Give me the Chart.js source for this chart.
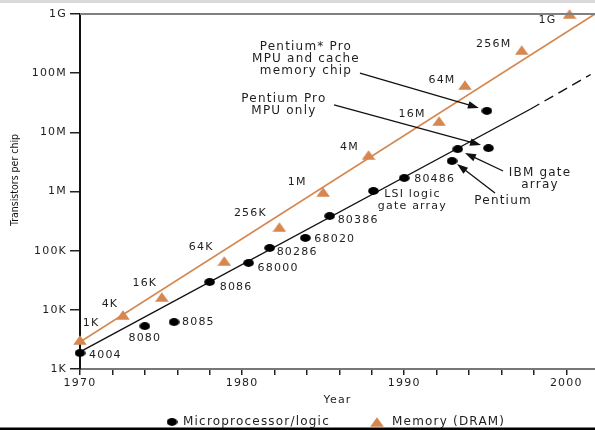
<!DOCTYPE html>
<html><head><meta charset="utf-8">
<script src="https://cdn.jsdelivr.net/npm/chart.js@4.4.1/dist/chart.umd.min.js"></script>
<style>html,body{margin:0;padding:0;background:#fff;overflow:hidden}</style>
</head><body>
<canvas id="c" width="595" height="430"></canvas>
<script>
// ---------- data ----------
const xTickYears  = [1970,1972,1974,1976,1978,1980,1982,1984,1986,1988,1990,1992,1994,1996,1998,2000];
const xTickLabels = ['1970','','','','','1980','','','','','1990','','','','','2000'];
const yTickValues = [1e3,1e4,1e5,1e6,1e7,1e8,1e9];
const yTickLabels = ['1K','10K','100K','1M','10M','100M','1G'];

const cpuNames = ['4004','8080','8085','8086','68000','80286','68020','80386','LSI logic\ngate array','80486','Pentium','IBM gate array','Pentium Pro MPU only','Pentium Pro MPU and cache'];
const cpuYears = [1970,1974.0,1975.8,1978.0,1980.4,1981.7,1983.9,1985.4,1988.1,1990.0,1992.95,1993.3,1995.2,1995.1];
const cpuTransistors = [1860,5300,6200,29500,62000,111000,164000,385000,1020000,1690000,3270000,5200000,5400000,23000000];

const dramNames = ['1K','4K','16K','64K','256K','1M','4M','16M','64M','256M','1G'];
const dramYears = [1970,1972.65,1975.05,1978.9,1982.3,1985.0,1987.8,1992.15,1993.75,1997.25,2000.2];
const dramBits  = [3090,8180,16500,66900,251000,980000,4140000,15500000,63000000,246000000,1000000000];

const cpuTrendYears  = [1970,1997.8,2001.5];
const cpuTrendValues = [1940,24800000,95000000];
const dramTrendYears  = [1970,2001.77];
const dramTrendValues = [2860,1000000000];

// ---------- label placement (pixel offsets from each mark) ----------
const cpuLabelPos = [[9,2,'left'],[0,12,'center'],[8,0,'left'],[10,5,'left'],[9,5,'left'],[7,4,'left'],[9,1,'left'],[8,4,'left'],[39,3,'center'],[10,1,'left'],null,null,null,null];
const dramLabelPos = [[11,-17],[-13,-11],[-17,-14],[-23,-14],[-29,-14],[-26,-10],[-19,-8],[-27,-7],[-23,-5],[-28,-6],[-22,6]];

// annotations (anchors in data coordinates)
const notes = [
  {lines:['Pentium* Pro','MPU and cache','memory chip'], at:[1983.94,2.77e8], from:[1987.27,1.006e8], to:[1994.61,2.58e7]},
  {lines:['Pentium Pro','MPU only'], at:[1982.58,3.66e7], from:[1985.67,2.9e7], to:[1994.74,6.1e6]},
  {lines:['IBM gate','array'], at:[1998.38,2.05e6], from:[1996.1,2.22e6], to:[1993.75,4.47e6]},
  {lines:['Pentium'], at:[1996.1,6.9e5], from:[1995.6,9.4e5], to:[1993.26,2.92e6]}
];

// ---------- styles ----------
const TEXT = '#1e1e1e';
const ORANGE = '#d5874f';
const FONT = "'DejaVu Sans', 'Open Sans', sans-serif";
const SP = '1.2px';

function makeDot(){const c=document.createElement('canvas');c.width=11;c.height=8;const g=c.getContext('2d');g.fillStyle='#000';g.beginPath();g.ellipse(5.5,4,5.3,3.9,0,0,Math.PI*2);g.fill();return c;}
function makeTri(){const c=document.createElement('canvas');c.width=14;c.height=10;const g=c.getContext('2d');g.fillStyle=ORANGE;g.beginPath();g.moveTo(7,0.3);g.lineTo(13.8,9.7);g.lineTo(0.2,9.7);g.closePath();g.fill();return c;}
const dotImg = makeDot(), triImg = makeTri();

function txt(ctx, s, x, y, align, size){
  ctx.save();
  ctx.font = size + 'px ' + FONT;
  ctx.fillStyle = TEXT; ctx.textAlign = align; ctx.textBaseline = 'middle';
  ctx.letterSpacing = SP;
  ctx.fillText(s, x, y);
  ctx.restore();
}

const decor = {
  id:'decor',
  beforeDraw(chart){
    const {ctx,width,height} = chart;
    ctx.save();
    ctx.fillStyle='#fff'; ctx.fillRect(0,0,width,height);
    ctx.fillStyle='#d9d9d9'; ctx.fillRect(0,0,width,3);
    ctx.fillStyle='#000'; ctx.fillRect(0,height-2.5,width,2.5);
    ctx.restore();
    ctx.letterSpacing = SP;
  },
  afterDraw(chart){
    const {ctx, chartArea:a} = chart;
    const xs = chart.scales.x, ys = chart.scales.y;
    const P = (p)=>[xs.getPixelForValue(p[0]), ys.getPixelForValue(p[1])];
    // top frame line
    ctx.save();
    ctx.strokeStyle='#808080'; ctx.lineWidth=2;
    ctx.beginPath(); ctx.moveTo(a.left, a.top); ctx.lineTo(a.right, a.top); ctx.stroke();
    ctx.restore();
    // point labels
    const m0 = chart.getDatasetMeta(0).data;
    cpuNames.forEach((n,i)=>{
      const o = cpuLabelPos[i]; if(!o) return;
      n.split('\n').forEach((ln,k)=> txt(ctx, ln, m0[i].x+o[0], m0[i].y+o[1]+k*12, o[2], 11));
    });
    const m1 = chart.getDatasetMeta(1).data;
    dramNames.forEach((n,i)=>{
      const o = dramLabelPos[i];
      txt(ctx, n, m1[i].x+o[0], m1[i].y+o[1], 'center', 11);
    });
    // annotations
    notes.forEach(nt=>{
      const at = P(nt.at);
      nt.lines.forEach((ln,k)=> txt(ctx, ln, at[0], at[1]+k*12, 'center', 12));
      const f = P(nt.from), t = P(nt.to);
      const ang = Math.atan2(t[1]-f[1], t[0]-f[0]);
      ctx.save();
      ctx.strokeStyle='#111'; ctx.fillStyle='#111'; ctx.lineWidth=1.3;
      ctx.beginPath(); ctx.moveTo(f[0],f[1]);
      ctx.lineTo(t[0]-8*Math.cos(ang), t[1]-8*Math.sin(ang)); ctx.stroke();
      ctx.translate(t[0],t[1]); ctx.rotate(ang);
      ctx.beginPath(); ctx.moveTo(0,0); ctx.lineTo(-11,-3.8); ctx.lineTo(-11,3.8); ctx.closePath(); ctx.fill();
      ctx.restore();
    });
    // y axis title
    ctx.save();
    ctx.translate(15,180); ctx.rotate(-Math.PI/2);
    ctx.font = "10.5px 'Liberation Sans Narrow', 'DejaVu Sans Condensed', sans-serif";
    ctx.fillStyle = '#111'; ctx.textAlign='center'; ctx.textBaseline='middle'; ctx.letterSpacing='0px';
    ctx.fillText('Transistors per chip', 0, 0);
    ctx.restore();
    // legend
    const items = [{ds:0, x:172, tx:183}, {ds:1, x:377, tx:392}];
    items.forEach(it=>{
      const d = chart.data.datasets[it.ds];
      const img = d.pointStyle;
      ctx.drawImage(img, it.x-img.width/2, 422-img.height/2);
      txt(ctx, d.label, it.tx, 422, 'left', 12);
    });
  }
};

new Chart(document.getElementById('c'), {
  type:'scatter',
  data:{datasets:[
    {label:'Microprocessor/logic', data:cpuYears.map((x,i)=>({x, y:cpuTransistors[i]})), pointStyle:dotImg, pointRadius:5, clip:false, order:0},
    {label:'Memory (DRAM)', data:dramYears.map((x,i)=>({x, y:dramBits[i]})), pointStyle:triImg, pointRadius:5, clip:false, order:1},
    {type:'line', label:'cpu trend', data:cpuTrendYears.map((x,i)=>({x, y:cpuTrendValues[i]})), borderColor:'#111', borderWidth:1.4, pointRadius:0, tension:0, clip:false, order:2,
      segment:{borderDash: c => c.p0DataIndex === 1 ? [10,6] : undefined}},
    {type:'line', label:'dram trend', data:dramTrendYears.map((x,i)=>({x, y:dramTrendValues[i]})), borderColor:ORANGE, borderWidth:1.5, pointRadius:0, tension:0, clip:false, order:3}
  ]},
  options:{
    responsive:false, animation:false, events:[], devicePixelRatio:1,
    layout:{autoPadding:false, padding:{top:14,right:0,bottom:21,left:0}},
    plugins:{legend:{display:false}, tooltip:{enabled:false}},
    scales:{
      x:{type:'linear', min:1970, max:2001.77,
        afterBuildTicks:s=>{s.ticks = xTickYears.map(v=>({value:v}));},
        afterFit:s=>{s.height=40; s.paddingLeft=0; s.paddingRight=0;},
        ticks:{autoSkip:false, maxRotation:0, padding:2, color:TEXT, font:{family:FONT, size:11}, callback:(v,i)=>xTickLabels[i]},
        grid:{drawOnChartArea:false, drawTicks:true, tickLength:6, color:'#222', lineWidth:1.5},
        border:{display:true, color:'#777', width:2},
        title:{display:true, text:'Year', color:TEXT, font:{family:FONT, size:11}, padding:{top:0,bottom:2.4}}},
      y:{type:'logarithmic', min:1e3, max:1e9,
        afterBuildTicks:s=>{s.ticks = yTickValues.map(v=>({value:v}));},
        afterFit:s=>{s.width=80; s.paddingTop=0; s.paddingBottom=0;},
        ticks:{autoSkip:false, padding:3, color:TEXT, font:{family:FONT, size:11}, callback:(v,i)=>yTickLabels[i]},
        grid:{drawOnChartArea:false, drawTicks:true, tickLength:10, color:'#222', lineWidth:1.5},
        border:{display:true, color:'#111', width:2}}
    }
  },
  plugins:[decor]
});
</script>
</body></html>
